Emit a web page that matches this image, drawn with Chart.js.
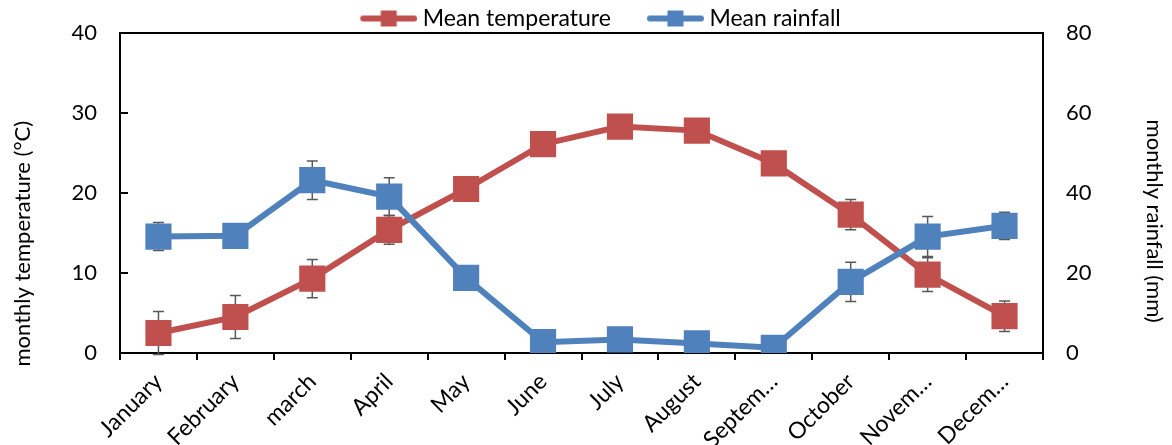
<!DOCTYPE html>
<html>
<head>
<meta charset="utf-8">
<script src="https://cdn.jsdelivr.net/npm/chart.js@4.4.1/dist/chart.umd.min.js"></script>
<style>
  html, body { margin: 0; padding: 0; background: #fff; }
</style>
</head>
<body>
<canvas id="chartClima" width="1172" height="445"></canvas>
<script>
// Meses tal cual aparecen en el eje
const MONTHS = [
  "January", "February", "march", "April", "May", "June",
  "July", "August", "Septem…", "October", "Novem…", "Decem…",
];

// Temperatura media (°C) y su desvío
const TEMPERATURE = [2.5, 4.5, 9.3, 15.4, 20.5, 26.1, 28.3, 27.8, 23.7, 17.3, 9.8, 4.6];
const TEMPERATURE_ERR = [2.7, 2.7, 2.4, 1.8, 0.8, 0.8, 0.8, 0.8, 0.8, 1.9, 2.1, 1.9];

// Lluvia media (mm) y su desvío
const RAINFALL = [29.1, 29.3, 43.2, 39.1, 18.8, 2.7, 3.4, 2.4, 1.3, 17.8, 29.1, 31.8];
const RAINFALL_ERR = [3.5, 1.5, 4.8, 4.7, 1.5, 1, 1, 1, 1, 4.9, 5, 3.4];

// Ticks de los dos ejes
const TEMP_TICKS = [0, 10, 20, 30, 40];
const RAIN_TICKS = [0, 20, 40, 60, 80];

const RED = "#C0504D";
const BLUE = "#4F81BD";
const FONT = "Lato";

// Marcador de leyenda: linea + cuadrado, como en Excel
function legendMarker(color) {
  const c = document.createElement("canvas");
  c.width = 92;
  c.height = 20;
  const g = c.getContext("2d");
  g.strokeStyle = color;
  g.lineWidth = 6;
  g.lineCap = "round";
  g.beginPath();
  g.moveTo(38, 10);
  g.lineTo(89, 10);
  g.stroke();
  g.fillStyle = color;
  g.fillRect(55.5, 2, 16, 16);
  return c;
}

// Barras de error, debajo de los marcadores
const errorBars = {
  id: "errorBars",
  beforeDatasetsDraw(chart) {
    const ctx = chart.ctx;
    chart.data.datasets.forEach((ds, i) => {
      const meta = chart.getDatasetMeta(i);
      const yScale = chart.scales[ds.yAxisID];
      ctx.save();
      ctx.strokeStyle = "#595959";
      ctx.lineWidth = 1.5;
      meta.data.forEach((pt, j) => {
        const err = ds.errors[j];
        const yTop = yScale.getPixelForValue(ds.data[j] + err);
        const yBot = yScale.getPixelForValue(ds.data[j] - err);
        ctx.beginPath();
        ctx.moveTo(pt.x, yTop);
        ctx.lineTo(pt.x, yBot);
        ctx.moveTo(pt.x - 5.5, yTop);
        ctx.lineTo(pt.x + 5.5, yTop);
        ctx.moveTo(pt.x - 5.5, yBot);
        ctx.lineTo(pt.x + 5.5, yBot);
        ctx.stroke();
      });
      ctx.restore();
    });
  },
};

// Borde superior del area + alto fijo de la leyenda
const topFrame = {
  id: "topFrame",
  afterInit(chart) {
    const lg = chart.legend;
    const fitOrig = lg.fit.bind(lg);
    lg.fit = function () {
      fitOrig();
      this.height = 33;
    };
  },
  afterDraw(chart) {
    const { ctx, chartArea } = chart;
    ctx.save();
    ctx.strokeStyle = "#000";
    ctx.lineWidth = 2;
    ctx.beginPath();
    ctx.moveTo(chartArea.left, chartArea.top);
    ctx.lineTo(chartArea.right, chartArea.top);
    ctx.stroke();
    ctx.restore();
  },
};

// Los ejes no deben empujar el area con su padding de labels
function fixBox(w, h) {
  return (s) => {
    if (w) s.width = w;
    if (h) s.height = h;
    s.paddingTop = 0;
    s.paddingBottom = 0;
    s.paddingLeft = 0;
    s.paddingRight = 0;
  };
}

const markers = [legendMarker(RED), legendMarker(BLUE)];

// Excel no centra los titulos de eje en el area: se corren con espacios
const TITLE_LEFT = "monthly temperature (°C)" + " ".repeat(18);
const TITLE_RIGHT = " ".repeat(10) + "monthly rainfall (mm)";

new Chart(document.getElementById("chartClima").getContext("2d"), {
  type: "line",
  data: {
    labels: MONTHS,
    datasets: [
      {
        label: "Mean temperature",
        data: TEMPERATURE,
        errors: TEMPERATURE_ERR,
        yAxisID: "y",
        borderColor: RED,
        backgroundColor: RED,
        borderWidth: 6,
        pointStyle: "rect",
        pointRadius: 18.5,
        pointHoverRadius: 18.5,
        pointBorderWidth: 0,
        order: 2,
      },
      {
        label: "Mean rainfall",
        data: RAINFALL,
        errors: RAINFALL_ERR,
        yAxisID: "y2",
        borderColor: BLUE,
        backgroundColor: BLUE,
        borderWidth: 6,
        pointStyle: "rect",
        pointRadius: 18.5,
        pointHoverRadius: 18.5,
        pointBorderWidth: 0,
        order: 1,
      },
    ],
  },
  options: {
    responsive: false,
    animation: false,
    devicePixelRatio: 1,
    layout: { padding: 0, autoPadding: false },
    plugins: {
      tooltip: { enabled: false },
      legend: {
        display: true,
        position: "top",
        labels: {
          usePointStyle: true,
          pointStyleWidth: 80,
          padding: 7,
          color: "#000",
          font: { family: FONT, size: 23 },
          sort: (a, b) => a.datasetIndex - b.datasetIndex,
          generateLabels(chart) {
            const items = Chart.defaults.plugins.legend.labels.generateLabels(chart);
            items.forEach((it) => {
              it.pointStyle = markers[it.datasetIndex];
            });
            return items;
          },
        },
      },
    },
    scales: {
      x: {
        offset: true,
        grid: {
          offset: true,
          drawOnChartArea: false,
          color: "#000",
          lineWidth: 2,
          tickLength: 7,
        },
        border: { color: "#000", width: 2 },
        ticks: {
          color: "#000",
          font: { family: FONT, size: 23 },
          minRotation: 45,
          maxRotation: 45,
          autoSkip: false,
          padding: 8,
        },
        afterFit: fixBox(0, 92),
      },
      y: {
        position: "left",
        min: TEMP_TICKS[0],
        max: TEMP_TICKS[TEMP_TICKS.length - 1],
        ticks: {
          stepSize: TEMP_TICKS[1] - TEMP_TICKS[0],
          color: "#000",
          font: { family: FONT, size: 22 },
          padding: 31,
        },
        grid: {
          drawOnChartArea: false,
          color: "#000",
          lineWidth: 2,
          tickLength: -8,
        },
        border: { color: "#000", width: 2 },
        title: {
          display: true,
          text: TITLE_LEFT,
          color: "#000",
          font: { family: FONT, size: 22 },
          padding: { top: 10, bottom: 0 },
        },
        afterFit: fixBox(120, 0),
      },
      y2: {
        position: "right",
        min: RAIN_TICKS[0],
        max: RAIN_TICKS[RAIN_TICKS.length - 1],
        ticks: {
          stepSize: RAIN_TICKS[1] - RAIN_TICKS[0],
          color: "#000",
          font: { family: FONT, size: 22 },
          padding: 23,
        },
        grid: { drawOnChartArea: false, drawTicks: false },
        border: { color: "#000", width: 2 },
        title: {
          display: true,
          text: TITLE_RIGHT,
          color: "#000",
          font: { family: FONT, size: 22 },
          padding: { top: 5, bottom: 0 },
        },
        afterFit: fixBox(129, 0),
      },
    },
  },
  plugins: [errorBars, topFrame],
});
</script>
</body>
</html>
